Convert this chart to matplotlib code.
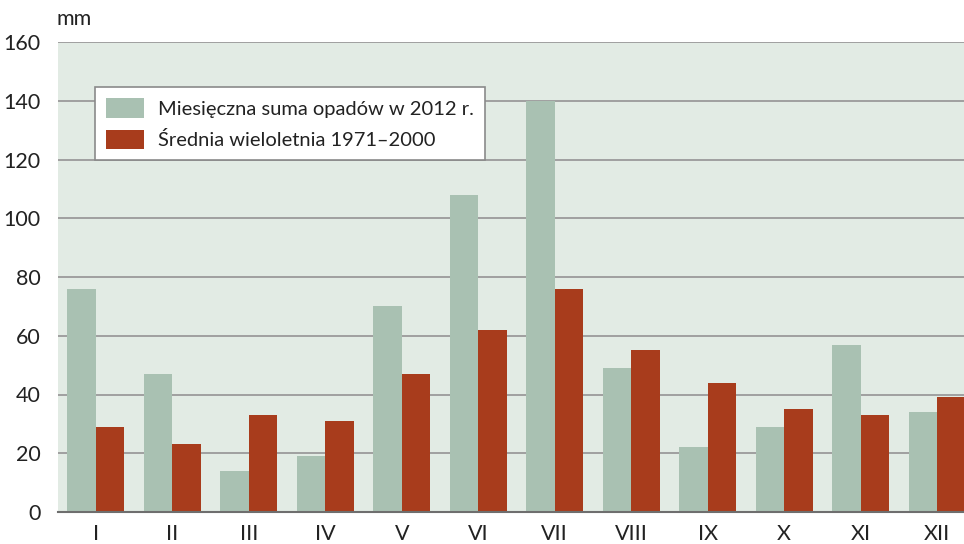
import numpy as np
import matplotlib
matplotlib.use("Agg")
import matplotlib.pyplot as plt

months = ["I", "II", "III", "IV", "V", "VI", "VII", "VIII", "IX", "X", "XI", "XII"]
opady_2012 = [76, 47, 14, 19, 70, 108, 140, 49, 22, 29, 57, 34]
srednia = [29, 23, 33, 31, 47, 62, 76, 55, 44, 35, 33, 39]
yticks = [0, 20, 40, 60, 80, 100, 120, 140, 160]

plt.rcParams['font.family'] = ['Lato', 'DejaVu Sans']

fig = plt.figure(figsize=(9.64, 5.44), dpi=100)
# the plot area runs past the right edge of the picture, as in the original
ax = fig.add_axes([57.5/964, 32/544, 918/964, 470/544])
ax.set_facecolor('#e2ebe4')

x = np.arange(len(months))
w = 0.375
ax.bar(x - w/2, opady_2012, w, color='#a9c1b2', label='Miesięczna suma opadów w 2012 r.', zorder=3)
ax.bar(x + w/2, srednia, w, color='#a83c1c', label='Średnia wieloletnia 1971–2000', zorder=3)

ax.set_xlim(-0.5, 11.5)
ax.set_ylim(0, 160)
ax.set_yticks(yticks)
ax.set_xticks(x)
ax.set_xticklabels(months)
ax.yaxis.grid(True, color='#9a9a9a', linewidth=1.3, zorder=1)
ax.set_axisbelow(True)
for s in ['top', 'right', 'left']:
  ax.spines[s].set_visible(False)
ax.spines['bottom'].set_color('#6e6e6e')
ax.spines['bottom'].set_linewidth(1.5)
ax.spines['bottom'].set_zorder(4)
ax.tick_params(axis='both', length=0, labelsize=15.5, colors='#222222')
ax.tick_params(axis='y', pad=12)
ax.tick_params(axis='x', pad=9)

leg = ax.legend(loc='upper left', bbox_to_anchor=(37/918, 0.904), fontsize=14.5,
                frameon=True, fancybox=False, framealpha=1, edgecolor='#8a8a8a',
                handlelength=1.9, handleheight=1.1, borderpad=0.55, labelspacing=0.6,
                handletextpad=0.7, borderaxespad=0)
leg.get_frame().set_linewidth(1.2)
for t in leg.get_texts():
  t.set_color('#222222')

fig.text(57/964, 1 - 19/544, 'mm', fontsize=15.5, color='#222222', va='center', ha='left')

fig.savefig('out.png', dpi=100)
